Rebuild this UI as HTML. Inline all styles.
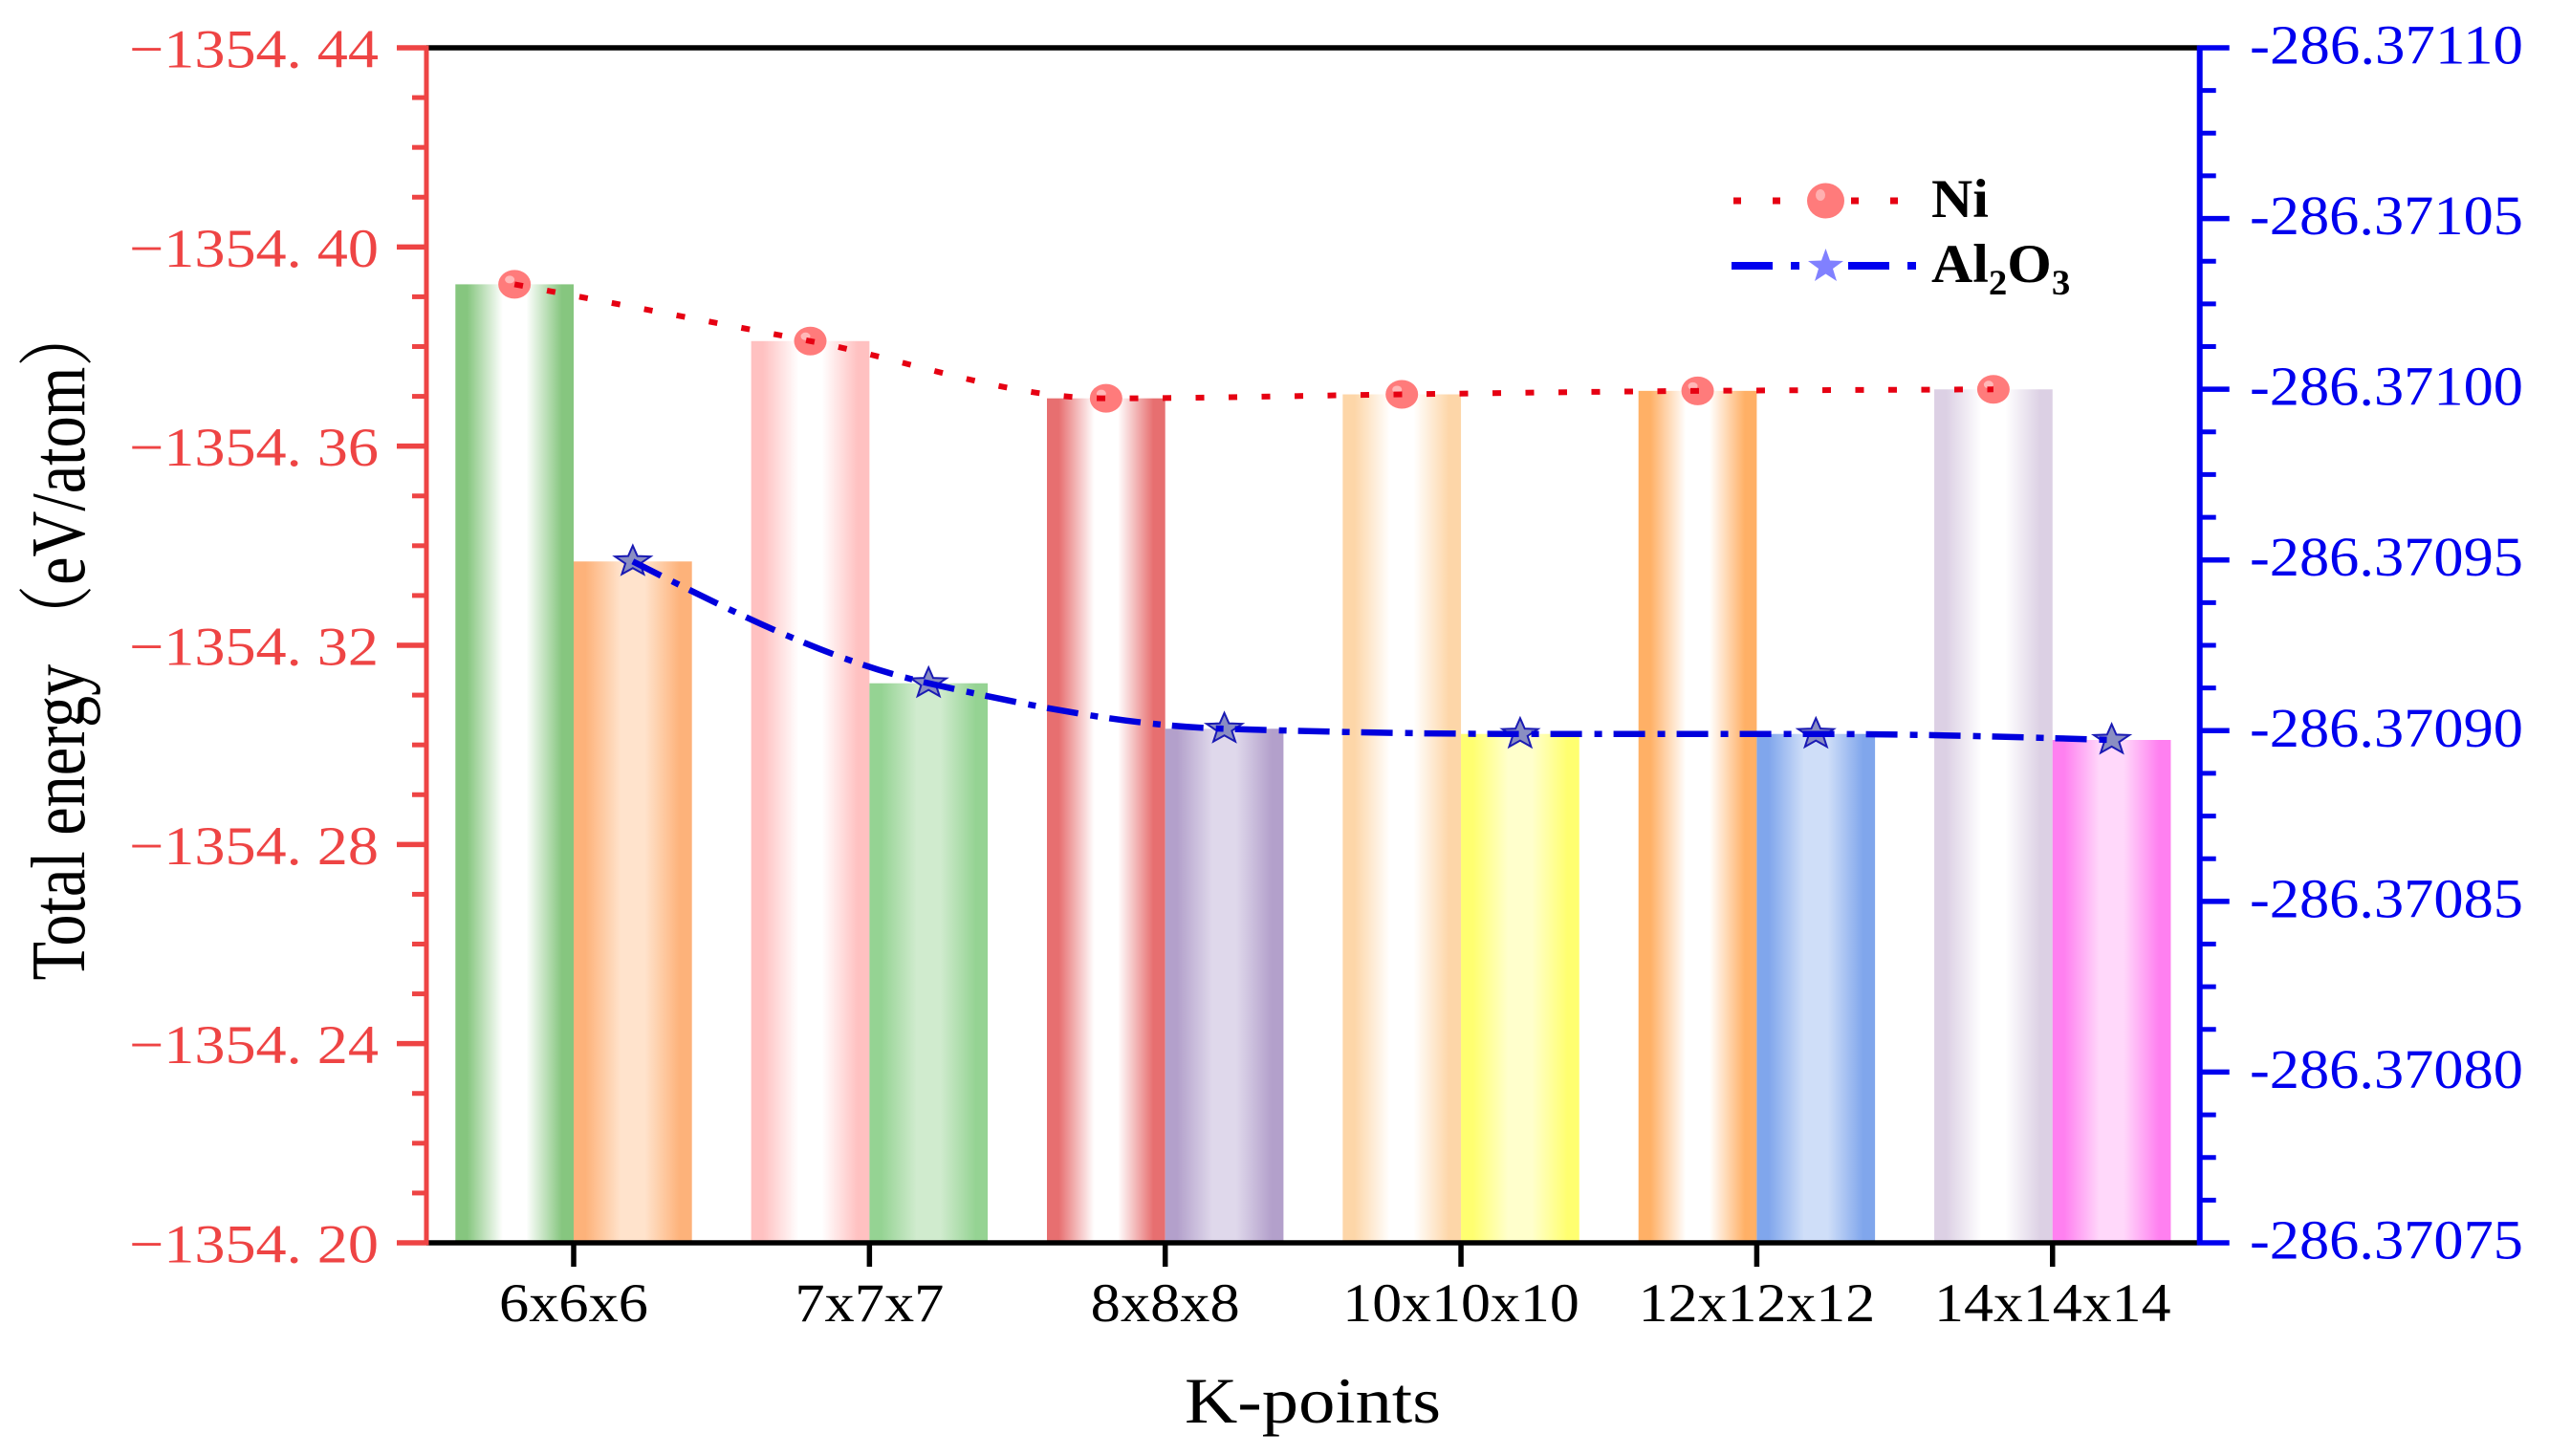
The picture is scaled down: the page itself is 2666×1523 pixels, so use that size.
<!DOCTYPE html>
<html lang="en">
<head>
<meta charset="utf-8">
<title>Total energy vs K-points</title>
<style>
html,body{margin:0;padding:0;background:#fff;width:2666px;height:1523px;overflow:hidden}
svg{display:block}
text{font-family:"Liberation Serif","Noto Serif CJK SC",serif}
</style>
</head>
<body>
<svg id="chart" xmlns="http://www.w3.org/2000/svg" width="2666" height="1523" viewBox="0 0 2666 1523">
  <defs id="defs"></defs>
  <g id="bars"></g>
  <g id="axes"></g>
  <g id="series"></g>
  <text x="1239" y="1488" font-size="68" fill="#000" textLength="268" lengthAdjust="spacingAndGlyphs">K-points</text>
  <text transform="translate(88,1025.5) rotate(-90)" font-size="80" fill="#000" textLength="708" lengthAdjust="spacingAndGlyphs">Total energy （eV/atom）</text>
  <g>
    <g>
      <line x1="1813" y1="210" x2="1985" y2="210" stroke="#e60012" stroke-width="7" stroke-dasharray="8 33"></line>
      <ellipse cx="1909.5" cy="210" rx="19.5" ry="18.5" fill="#ff7b7b"></ellipse>
      <ellipse cx="1904" cy="204" rx="5" ry="6" fill="#ffb0b0"></ellipse>
      <text transform="translate(2020,227) scale(1.05,1)" font-size="57" font-weight="bold" fill="#000">Ni</text>
    </g>
    <g>
      <line x1="1811" y1="278" x2="2004" y2="278" stroke="#0000ee" stroke-width="8" stroke-dasharray="43 19 9 51"></line>
      <polygon fill="#8080ff" points="1909.5,260 1914,272.5 1928,273 1917,281 1921,294 1909.5,286.5 1898,294 1902,281 1891,273 1905,272.5"></polygon>
      <text transform="translate(2020,295) scale(1.05,1)" font-size="57" font-weight="bold" fill="#000">Al<tspan font-size="37" dy="13">2</tspan><tspan dy="-13">O</tspan><tspan font-size="37" dy="13">3</tspan></text>
    </g>
  </g>
</svg>
<script>
// ---- chart data ----
const categories = ['6x6x6', '7x7x7', '8x8x8', '10x10x10', '12x12x12', '14x14x14'];
const niEnergy = [-1354.3925, -1354.3811, -1354.3696, -1354.3704, -1354.3711, -1354.3714];
const al2o3Energy = [-286.37094956, -286.37091388, -286.37090056, -286.37089904, -286.37089904, -286.37089728];
const leftTicks = [-1354.44, -1354.40, -1354.36, -1354.32, -1354.28, -1354.24, -1354.20];
const leftTickLabels = ['−1354. 44', '−1354. 40', '−1354. 36', '−1354. 32', '−1354. 28', '−1354. 24', '−1354. 20'];
const rightTicks = [-286.37110, -286.37105, -286.37100, -286.37095, -286.37090, -286.37085, -286.37080, -286.37075];
const rightTickLabels = ['-286.37110', '-286.37105', '-286.37100', '-286.37095', '-286.37090', '-286.37085', '-286.37080', '-286.37075'];
const niEdgeColors = ['#86c67f', '#ffc1c1', '#e76f70', '#fdd6a8', '#ffb066', '#dcd0e4'];
const alEdgeColors = ['#fdb27a', '#95d393', '#b3a0cb', '#ffff70', '#80a6ec', '#ff80f0'];
const alCenterColors = ['#ffe3cc', '#d0ebce', '#dfd8eb', '#ffffcc', '#cfdef8', '#ffd8fa'];

// ---- geometry ----
const NS = 'http://www.w3.org/2000/svg';
const plot = { left: 446, right: 2300.7, top: 50, bottom: 1300 };
const firstTickX = 600, stepX = 309.35, barW = 123.7;
const leftDomain = [-1354.44, -1354.20];
const rightDomain = [-286.37110, -286.37075];
const yLeft = v => plot.top + (v - leftDomain[0]) / (leftDomain[1] - leftDomain[0]) * (plot.bottom - plot.top);
const yRight = v => plot.top + (v - rightDomain[0]) / (rightDomain[1] - rightDomain[0]) * (plot.bottom - plot.top);
const xTick = i => firstTickX + i * stepX;

function mk(tag, attrs, parent) {
  const el = document.createElementNS(NS, tag);
  for (const k in attrs) el.setAttribute(k, attrs[k]);
  parent.appendChild(el);
  return el;
}
function gradient(id, edge, center, a, b) {
  const g = mk('linearGradient', { id: id, x1: '0', x2: '1', y1: '0', y2: '0' }, document.getElementById('defs'));
  [[0, edge], [0.1, edge], [a, center], [b, center], [0.9, edge], [1, edge]].forEach(s => {
    mk('stop', { offset: s[0], 'stop-color': s[1] }, g);
  });
  return 'url(#' + id + ')';
}

// ---- bars ----
const barsG = document.getElementById('bars');
categories.forEach((c, i) => {
  const niTop = yLeft(niEnergy[i]);
  const ni = mk('rect', { x: xTick(i) - barW, y: niTop, width: barW, height: plot.bottom - niTop, fill: gradient('ni' + i, niEdgeColors[i], '#ffffff', 0.4, 0.6) }, barsG);
  
  
  const alTop = yRight(al2o3Energy[i]);
  const al = mk('rect', { x: xTick(i), y: alTop, width: barW, height: plot.bottom - alTop, fill: gradient('al' + i, alEdgeColors[i], alCenterColors[i], 0.4, 0.6) }, barsG);
  
  
});

// ---- axes ----
const axesG = document.getElementById('axes');
const RED = '#ee4444', BLUE = '#0000ee';
function line(x1, y1, x2, y2, color, w, name) {
  const el = mk('line', { x1: x1, y1: y1, x2: x2, y2: y2, stroke: color, 'stroke-width': w }, axesG);
  
  
}
line(plot.left, plot.top, plot.right, plot.top, '#000', 5.5, 'top-border');
line(plot.left, plot.bottom, plot.right, plot.bottom, '#000', 5.5, 'x-axis-line');
line(plot.left, plot.top - 2.5, plot.left, plot.bottom + 2.5, RED, 5, 'left-y-axis-line');
line(plot.right, plot.top - 2.5, plot.right, plot.bottom + 2.5, BLUE, 6, 'right-y-axis-line');

leftTicks.forEach((v, i) => {
  const y = yLeft(v);
  line(plot.left - 31, y, plot.left, y, RED, 5.5, 'left-major-tick');
  const t = mk('text', { x: 135, y: y + 20.5, 'font-size': 57, fill: RED, textLength: 261, lengthAdjust: 'spacingAndGlyphs' }, axesG);
  
  
  t.textContent = leftTickLabels[i];
  if (i < leftTicks.length - 1) {
    for (let m = 1; m < 4; m++) {
      const ym = yLeft(v + (leftTicks[i + 1] - v) * m / 4);
      line(plot.left - 15, ym, plot.left, ym, RED, 5, 'left-minor-tick');
    }
  }
});
rightTicks.forEach((v, i) => {
  const y = yRight(v);
  line(plot.right, y, plot.right + 31, y, BLUE, 5.5, 'right-major-tick');
  const t = mk('text', { x: 2353, y: y + 16.5, 'font-size': 58, fill: BLUE, textLength: 286, lengthAdjust: 'spacingAndGlyphs' }, axesG);
  
  
  t.textContent = rightTickLabels[i];
  if (i < rightTicks.length - 1) {
    for (let m = 1; m < 4; m++) {
      const ym = yRight(v + (rightTicks[i + 1] - v) * m / 4);
      line(plot.right, ym, plot.right + 17, ym, BLUE, 5, 'right-minor-tick');
    }
  }
});
categories.forEach((c, i) => {
  const x = xTick(i);
  line(x, plot.bottom, x, plot.bottom + 25, '#000', 5.5, 'x-tick');
  const w = 156 + (c.length - 5) * 30.5;
  const t = mk('text', { x: x - w / 2, y: 1382, 'font-size': 57, fill: '#000', textLength: w, lengthAdjust: 'spacingAndGlyphs' }, axesG);
  
  
  t.textContent = c;
});

// ---- smooth monotone line through points ----
function monotonePath(pts) {
  const n = pts.length, d = [], m = [];
  for (let i = 0; i < n - 1; i++) d.push((pts[i + 1][1] - pts[i][1]) / (pts[i + 1][0] - pts[i][0]));
  for (let i = 1; i < n - 1; i++) m[i] = d[i - 1] * d[i] <= 0 ? 0 : 2 * d[i - 1] * d[i] / (d[i - 1] + d[i]);
  m[0] = (3 * d[0] - m[1]) / 2;
  m[n - 1] = (3 * d[n - 2] - m[n - 2]) / 2;
  let p = 'M' + pts[0][0] + ',' + pts[0][1];
  for (let i = 0; i < n - 1; i++) {
    const h = (pts[i + 1][0] - pts[i][0]) / 3;
    p += ' C' + (pts[i][0] + h) + ',' + (pts[i][1] + m[i] * h) + ' ' + (pts[i + 1][0] - h) + ',' + (pts[i + 1][1] - m[i + 1] * h) + ' ' + pts[i + 1][0] + ',' + pts[i + 1][1];
  }
  return p;
}

// ---- series ----
const seriesG = document.getElementById('series');
const niPts = niEnergy.map((v, i) => [xTick(i) - barW / 2, yLeft(v)]);
const alPts = al2o3Energy.map((v, i) => [xTick(i) + barW / 2, yRight(v)]);

niPts.forEach(p => {
  const e = mk('ellipse', { cx: p[0], cy: p[1], rx: 17, ry: 15, fill: '#ff7b7b' }, seriesG);
  
  
  const h = mk('ellipse', { cx: p[0] - 5, cy: p[1] - 5, rx: 5, ry: 4, fill: '#ffb8b8' }, seriesG);
  
  
});
alPts.forEach(p => {
  let s = '';
  for (let k = 0; k < 10; k++) {
    const r = k % 2 ? 0.42 : 1, a = -Math.PI / 2 + k * Math.PI / 5;
    s += (p[0] + 19.5 * r * Math.cos(a)) + ',' + (p[1] + 16.5 * r * Math.sin(a)) + ' ';
  }
  const st = mk('polygon', { points: s, fill: '#8a8ec2', stroke: '#1a1ab4', 'stroke-width': 2 }, seriesG);
  
  
});
const niLine = mk('path', { d: monotonePath(niPts), fill: 'none', stroke: '#e60012', 'stroke-width': 6, 'stroke-dasharray': '9 25.5' }, seriesG);


const alLine = mk('path', { d: monotonePath(alPts), fill: 'none', stroke: '#0000dd', 'stroke-width': 6.5, 'stroke-dasharray': '33 13 8 12' }, seriesG);


</script>
</body>
</html>
